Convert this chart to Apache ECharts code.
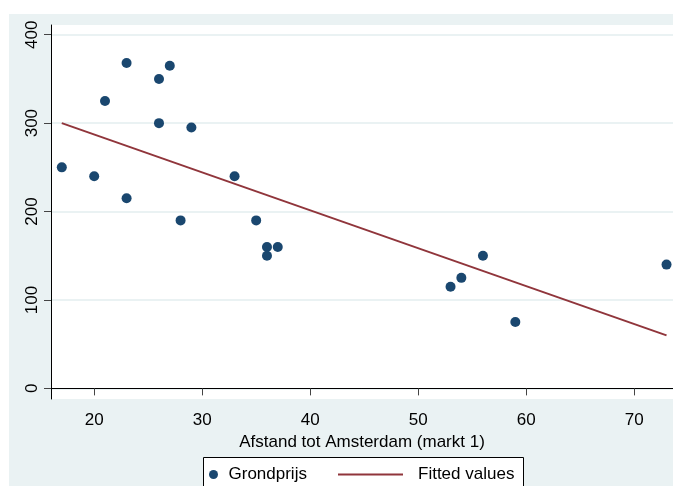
<!DOCTYPE html>
<html>
<head>
<meta charset="utf-8">
<script src="https://cdn.jsdelivr.net/npm/echarts@6/dist/echarts.min.js"></script>
<style>
  html, body { margin: 0; padding: 0; background: #fff; }
  #chart { width: 673px; height: 486px; }
</style>
</head>
<body>
<div id="chart"></div>
<script>
// afstand tot Amsterdam (markt 1) en grondprijs
var afstand = [17, 20, 21, 23, 23, 26, 27, 26, 29, 28, 33, 35, 36, 36, 37, 53, 54, 56, 59, 73];
var grondprijs = [250, 240, 325, 368, 215, 350, 365, 300, 295, 190, 240, 190, 160, 150, 160, 115, 125, 150, 75, 140];
// fitted line, endpoints
var fitX = [17, 73];
var fitY = [300, 60];
var xTicks = [20, 30, 40, 50, 60, 70];
var yTicks = [0, 100, 200, 300, 400];

var font = 'Liberation Sans, Arial, sans-serif';

var chart = echarts.init(document.getElementById('chart'));

var option = {
    backgroundColor: '#fff',
    animation: false,
    graphic: [
        {
            type: 'rect',
            z: -10,
            shape: { x: 9, y: 14, width: 664, height: 472 },
            style: { fill: '#eaf2f3' },
            silent: true
        },
        {
            type: 'rect',
            shape: { x: 203.5, y: 457.5, width: 320, height: 40 },
            style: { fill: '#fff', stroke: '#000', lineWidth: 1 },
            silent: true
        }
    ],
    grid: {
        left: 51, top: 25, right: 0, bottom: 87,
        show: true,
        backgroundColor: '#fff',
        borderWidth: 0
    },
    legend: [
        {
            left: 209, top: 466, padding: 0,
            itemWidth: 20, itemHeight: 9,
            textStyle: { fontFamily: font, fontSize: 17, color: '#000' },
            data: [{ name: 'Grondprijs', icon: 'circle' }]
        },
        {
            left: 338, top: 466, padding: 0,
            itemWidth: 65, itemHeight: 2,
            textStyle: { fontFamily: font, fontSize: 17, color: '#000', padding: [0, 0, 0, 10] },
            data: [{ name: 'Fitted values', icon: 'rect' }]
        }
    ],
    xAxis: {
        type: 'value',
        min: 16,
        max: 73.6,
        name: 'Afstand tot Amsterdam (markt 1)',
        nameLocation: 'middle',
        nameGap: 28,
        nameTextStyle: { fontFamily: font, fontSize: 17, color: '#000' },
        axisLine: { show: true, lineStyle: { color: '#000', width: 1 } },
        axisTick: { show: true, length: 7, lineStyle: { color: '#444' }, customValues: xTicks },
        axisLabel: { fontFamily: font, fontSize: 17, color: '#000', margin: 13, customValues: xTicks },
        splitLine: { show: false }
    },
    yAxis: {
        type: 'value',
        min: -12,
        max: 411,
        axisLine: { show: true, lineStyle: { color: '#000', width: 1 } },
        axisTick: { show: true, length: 7, lineStyle: { color: '#444' }, customValues: yTicks },
        axisLabel: { fontFamily: font, fontSize: 17, color: '#000', rotate: 90, margin: 10, customValues: yTicks },
        splitLine: { show: true, lineStyle: { color: '#eaf2f3', width: 2 } }
    },
    series: [
        {
            name: 'Grondprijs',
            type: 'scatter',
            symbol: 'circle',
            symbolSize: 10,
            itemStyle: { color: '#1a476f', opacity: 1 },
            data: afstand.map(function (x, i) { return [x, grondprijs[i]]; })
        },
        {
            name: 'Fitted values',
            type: 'line',
            symbol: 'none',
            showSymbol: false,
            lineStyle: { color: '#90353b', width: 2 },
            itemStyle: { color: '#90353b' },
            data: fitX.map(function (x, i) { return [x, fitY[i]]; })
        }
    ]
};

chart.setOption(option);
</script>
</body>
</html>
